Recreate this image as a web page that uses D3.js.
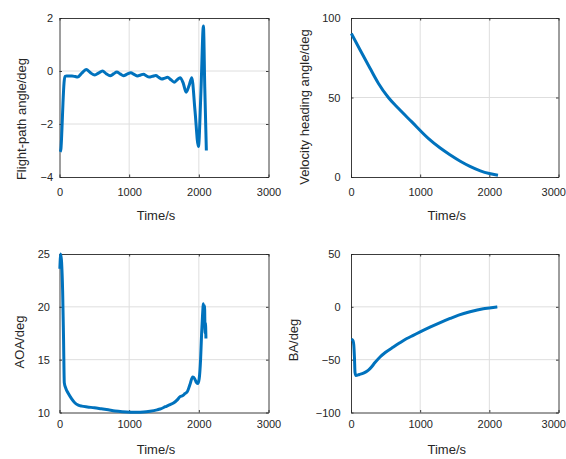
<!DOCTYPE html>
<html>
<head>
<meta charset="utf-8">
<script src="https://cdn.jsdelivr.net/npm/d3@7"></script>
<style>
  body { margin: 0; background: #fff; }
  svg { display: block; }
</style>
</head>
<body>
<svg id="chart" width="566" height="459"></svg>
<script>
// shared x axis
const timeTicks = [0, 1000, 2000, 3000];

// flight-path angle (deg)
const fpaTime = [10, 20, 35, 50, 65, 78, 100, 180, 225, 260, 320, 383, 445, 507, 560, 617, 670, 727, 775, 823, 870, 919, 970, 1024, 1070, 1120, 1165, 1206, 1245, 1287, 1335, 1383, 1425, 1469, 1510, 1550, 1600, 1646, 1690, 1731, 1775, 1818, 1860, 1899, 1945, 1994, 2030, 2066, 2085, 2108];
const fpaDeg = [-3.05, -2.95, -2.2, -1.2, -0.45, -0.2, -0.19, -0.19, -0.21, -0.23, -0.08, 0.06, -0.07, -0.15, -0.08, 0.0, -0.1, -0.18, -0.11, -0.04, -0.11, -0.18, -0.12, -0.07, -0.13, -0.19, -0.15, -0.12, -0.18, -0.23, -0.2, -0.17, -0.24, -0.3, -0.27, -0.24, -0.33, -0.42, -0.33, -0.25, -0.45, -0.8, -0.55, -0.25, -1.5, -2.85, -0.8, 1.7, -0.6, -3.0];
const fpaTicks = [-4, -2, 0, 2];

// velocity heading angle (deg)
const headTime = [5, 130, 275, 395, 540, 684, 876, 1117, 1290, 1430, 1580, 1720, 1870, 2000, 2125];
const headDeg = [90.3, 80, 68.4, 59, 50, 43.2, 34.8, 24.3, 18.2, 14.0, 9.95, 6.7, 3.9, 2.2, 1.1];
const headTicks = [0, 50, 100];

// angle of attack (deg)
const aoaTime = [5, 18, 30, 45, 58, 69, 90, 127, 175, 223, 270, 319, 400, 500, 600, 700, 797, 900, 1014, 1110, 1206, 1300, 1400, 1445, 1520, 1588, 1636, 1690, 1731, 1770, 1803, 1837, 1870, 1912, 1940, 1960, 1985, 2005, 2025, 2040, 2052, 2066, 2075, 2082, 2090, 2095, 2102];
const aoaDeg = [23.6, 25.0, 24.2, 21.5, 17.0, 12.8, 12.3, 11.8, 11.3, 10.9, 10.7, 10.6, 10.52, 10.45, 10.35, 10.25, 10.15, 10.08, 10.03, 10.02, 10.04, 10.12, 10.25, 10.33, 10.55, 10.75, 10.9, 11.2, 11.5, 11.6, 11.8, 12.0, 12.6, 13.35, 13.2, 12.9, 12.75, 13.2, 15.0, 17.5, 19.05, 20.3, 19.0, 20.1, 17.5, 18.5, 17.0];
const aoaTicks = [10, 15, 20, 25];

// bank angle (deg)
const baTime = [5, 25, 40, 50, 58, 70, 120, 180, 230, 275, 350, 420, 500, 613, 700, 807, 900, 1000, 1150, 1290, 1433, 1556, 1721, 1913, 2000, 2115];
const baDeg = [-31, -31.5, -36, -48, -62, -65, -64, -62.7, -61, -58.5, -52.5, -47.5, -43, -38, -34.3, -30, -27, -23.7, -19, -14.9, -11, -7.9, -4.7, -1.9, -1.1, 0];
const baTicks = [-100, -50, 0, 50];

const textColor = '#262626';
const fontFamily = '"Liberation Sans", Arial, Helvetica, sans-serif';
const pageWidth = 566;

const panels = [
  { time: fpaTime, value: fpaDeg, ticks: fpaTicks, label: 'Flight-path angle/deg',
    left: 59.5, right: 268.5, top: 18, bottom: 177, yPad: 6.5, xPad: 11.4,
    labelX: 21, labelY: 119, timeY: 215 },
  { time: headTime, value: headDeg, ticks: headTicks, label: 'Velocity heading angle/deg',
    left: 351, right: 558.5, top: 18, bottom: 177, yPad: 10.5, xPad: 11.4,
    labelX: 304, labelY: 107, timeY: 215 },
  { time: aoaTime, value: aoaDeg, ticks: aoaTicks, label: 'AOA/deg',
    left: 59.5, right: 268.5, top: 254, bottom: 412.5, yPad: 9.5, xPad: 7.9,
    labelX: 19, labelY: 342, timeY: 449 },
  { time: baTime, value: baDeg, ticks: baTicks, label: 'BA/deg',
    left: 351, right: 558.5, top: 254, bottom: 412.5, yPad: 10.5, xPad: 7.9,
    labelX: 293, labelY: 340, timeY: 449 }
];

const svg = d3.select('#chart');

panels.forEach((p) => {
  const x = d3.scaleLinear().domain([0, 3000]).range([p.left, p.right]);
  const y = d3.scaleLinear().domain(d3.extent(p.ticks)).range([p.bottom, p.top]);
  const g = svg.append('g');

  // grid
  g.append('g')
    .selectAll('line')
    .data(timeTicks.slice(1, -1))
    .join('line')
    .attr('x1', (d) => x(d)).attr('x2', (d) => x(d))
    .attr('y1', p.top).attr('y2', p.bottom)
    .attr('stroke', '#dedede').attr('stroke-width', 1);
  g.append('g')
    .selectAll('line')
    .data(p.ticks.slice(1, -1))
    .join('line')
    .attr('x1', p.left).attr('x2', p.right)
    .attr('y1', (d) => y(d)).attr('y2', (d) => y(d))
    .attr('stroke', '#dedede').attr('stroke-width', 1);

  // axes, ticks inside like a boxed plot
  const fmt = d3.format('d');
  const bottomAxis = g.append('g')
    .attr('transform', `translate(0,${p.bottom})`)
    .call(d3.axisBottom(x).tickValues(timeTicks).tickFormat(fmt)
      .tickSize(-2.5).tickSizeOuter(0).tickPadding(p.xPad));
  const leftAxis = g.append('g')
    .attr('transform', `translate(${p.left},0)`)
    .call(d3.axisLeft(y).tickValues(p.ticks).tickFormat(fmt)
      .tickSize(-2.5).tickSizeOuter(0).tickPadding(p.yPad));
  g.append('g')
    .attr('transform', `translate(0,${p.top})`)
    .call(d3.axisTop(x).tickValues(timeTicks).tickSize(-2.5).tickSizeOuter(0).tickFormat(''));
  g.append('g')
    .attr('transform', `translate(${p.right},0)`)
    .call(d3.axisRight(y).tickValues(p.ticks).tickSize(-2.5).tickSizeOuter(0).tickFormat(''));

  g.selectAll('.domain, .tick line').attr('stroke', textColor).attr('stroke-width', 0.9);
  [bottomAxis, leftAxis].forEach((a) => {
    a.selectAll('text')
      .attr('fill', textColor)
      .style('font-family', fontFamily)
      .style('font-size', '11px');
  });

  // keep the last time label inside the page, as in the original figure
  bottomAxis.selectAll('text').each(function () {
    const box = this.getBBox();
    const tickX = x(+this.__data__);
    const over = tickX + box.x + box.width - pageWidth;
    if (over > 0) d3.select(this).attr('dx', -over - 0.5);
  });

  // series line
  const line = d3.line()
    .x((d, i) => x(p.time[i]))
    .y((d) => y(d))
    .curve(d3.curveMonotoneX);
  g.append('path')
    .datum(p.value)
    .attr('d', line)
    .attr('fill', 'none')
    .attr('stroke', '#0072BD')
    .attr('stroke-width', 3)
    .attr('stroke-linejoin', 'round');

  // labels
  g.append('text')
    .attr('x', (p.left + p.right) / 2 - 8)
    .attr('y', p.timeY)
    .attr('dy', '0.35em')
    .attr('text-anchor', 'middle')
    .attr('fill', textColor)
    .style('font-family', fontFamily)
    .style('font-size', '13px')
    .text('Time/s');
  g.append('text')
    .attr('transform', `translate(${p.labelX},${p.labelY}) rotate(-90)`)
    .attr('dy', '0.35em')
    .attr('text-anchor', 'middle')
    .attr('fill', textColor)
    .style('font-family', fontFamily)
    .style('font-size', '13px')
    .text(p.label);
});
</script>
</body>
</html>
